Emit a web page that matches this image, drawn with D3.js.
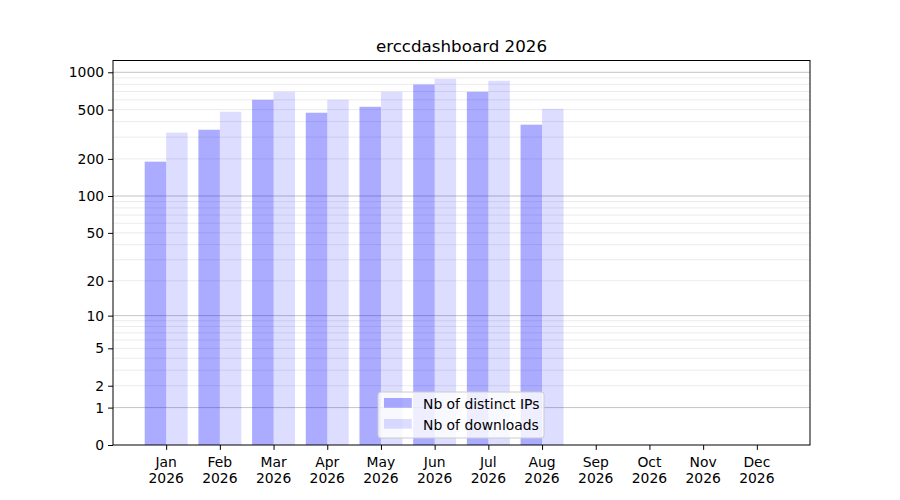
<!DOCTYPE html>
<html>
<head>
<meta charset="utf-8">
<script src="https://cdn.jsdelivr.net/npm/d3@7"></script>
<style>
  body { margin: 0; background: #fff; }
  svg { font-family: "DejaVu Sans", sans-serif; }
</style>
</head>
<body>
<div id="chart"></div>
<script>
// chart data
var months = ["Jan", "Feb", "Mar", "Apr", "May", "Jun", "Jul", "Aug", "Sep", "Oct", "Nov", "Dec"];
var year = "2026";
var distinctIPs = [190, 344, 600, 472, 527, 797, 696, 378, 0, 0, 0, 0];
var downloads = [326, 481, 696, 600, 696, 886, 854, 508, 0, 0, 0, 0];
var yTickValues = [0, 1, 2, 5, 10, 20, 50, 100, 200, 500, 1000];
var yMajorGrid = [1, 10, 100, 1000];
var seriesNames = ["Nb of distinct IPs", "Nb of downloads"];

var W = 900, H = 500;
// plot area (note: "top" is reserved on window, so use other names)
var pLeft = 113, pRight = 810, pTop = 60.5, pBottom = 445;
var fontSize = 13.9;

var svg = d3.select("#chart").append("svg").attr("width", W).attr("height", H);

// x: month index, with a 5% margin like matplotlib
var barW = 0.4;
var lo = -barW, hi = months.length - 1 + barW;
var pad = (hi - lo) * 0.05;
var x = d3.scaleLinear().domain([lo - pad, hi + pad]).range([pLeft, pRight]);

// y: symlog (log1p), top gets 5% margin in transformed space
var maxV = d3.max(distinctIPs.concat(downloads));
var yTop = Math.pow(10, 1.05 * Math.log10(1 + maxV)) - 1;
var y = d3.scaleSymlog().constant(1).domain([0, yTop]).range([pBottom, pTop]);

// grid lines: minor 2..9 per decade, major at powers of ten
var minor = [];
[1, 10, 100, 1000].forEach(function (d) {
  for (var k = 2; k <= 9; k++) {
    if (d * k <= yTop) minor.push(d * k);
  }
});
svg.append("g").selectAll("line").data(minor).enter().append("line")
  .attr("x1", pLeft).attr("x2", pRight)
  .attr("y1", d => y(d)).attr("y2", d => y(d))
  .attr("stroke", "#ebebeb").attr("stroke-width", 1);
svg.append("g").selectAll("line").data(yMajorGrid).enter().append("line")
  .attr("x1", pLeft).attr("x2", pRight)
  .attr("y1", d => y(d)).attr("y2", d => y(d))
  .attr("stroke", "#c4c4c4").attr("stroke-width", 1);

// bars
var colors = ["blue", "blue"];
var alphas = [0.33, 0.135];
[distinctIPs, downloads].forEach(function (vals, s) {
  svg.append("g").selectAll("rect").data(vals).enter().append("rect")
    .attr("x", (d, i) => x(i - barW + s * barW))
    .attr("width", x(barW) - x(0))
    .attr("y", d => y(d))
    .attr("height", d => y(0) - y(d))
    .attr("fill", colors[s]).attr("fill-opacity", alphas[s]);
});

// frame
svg.append("rect").attr("x", pLeft).attr("y", pTop)
  .attr("width", pRight - pLeft).attr("height", pBottom - pTop)
  .attr("fill", "none").attr("stroke", "#000").attr("stroke-width", 1);

// y axis
var yAxis = d3.axisLeft(y).tickValues(yTickValues).tickFormat(d3.format("d"))
  .tickSize(4.9).tickPadding(4);
var yAxisG = svg.append("g").attr("transform", "translate(" + pLeft + ",0)").call(yAxis);
yAxisG.select(".domain").remove();
yAxisG.selectAll("text").style("font-size", fontSize + "px")
  .style("font-family", "DejaVu Sans").attr("fill", "#000");

// x axis with two-line labels
var xAxis = d3.axisBottom(x).tickValues(d3.range(months.length)).tickFormat("")
  .tickSize(4.9);
var xAxisG = svg.append("g").attr("transform", "translate(0," + pBottom + ")").call(xAxis);
xAxisG.select(".domain").remove();
var xl = svg.append("g").selectAll("text").data(months).enter().append("text")
  .attr("x", (d, i) => x(i))
  .attr("text-anchor", "middle")
  .style("font-size", fontSize + "px");
xl.append("tspan").attr("x", (d, i) => x(i)).attr("y", pBottom + 21.5).text(d => d);
xl.append("tspan").attr("x", (d, i) => x(i)).attr("y", pBottom + 37.5).text(year);

// title
svg.append("text").attr("x", (pLeft + pRight) / 2).attr("y", 52)
  .attr("text-anchor", "middle").style("font-size", "16.7px")
  .text("erccdashboard " + year);

// legend
var lg = svg.append("g").attr("transform", "translate(378,392)");
lg.append("rect").attr("width", 166).attr("height", 46).attr("rx", 3)
  .attr("fill", "#fff").attr("fill-opacity", 0.8)
  .attr("stroke", "#cccccc").attr("stroke-width", 1);
seriesNames.forEach(function (name, s) {
  lg.append("rect").attr("x", 6).attr("y", 6 + s * 21)
    .attr("width", 27.8).attr("height", 9.7)
    .attr("fill", colors[s]).attr("fill-opacity", alphas[s]);
  lg.append("text").attr("x", 45).attr("y", 16.5 + s * 21)
    .style("font-size", fontSize + "px").text(name);
});
</script>
</body>
</html>
